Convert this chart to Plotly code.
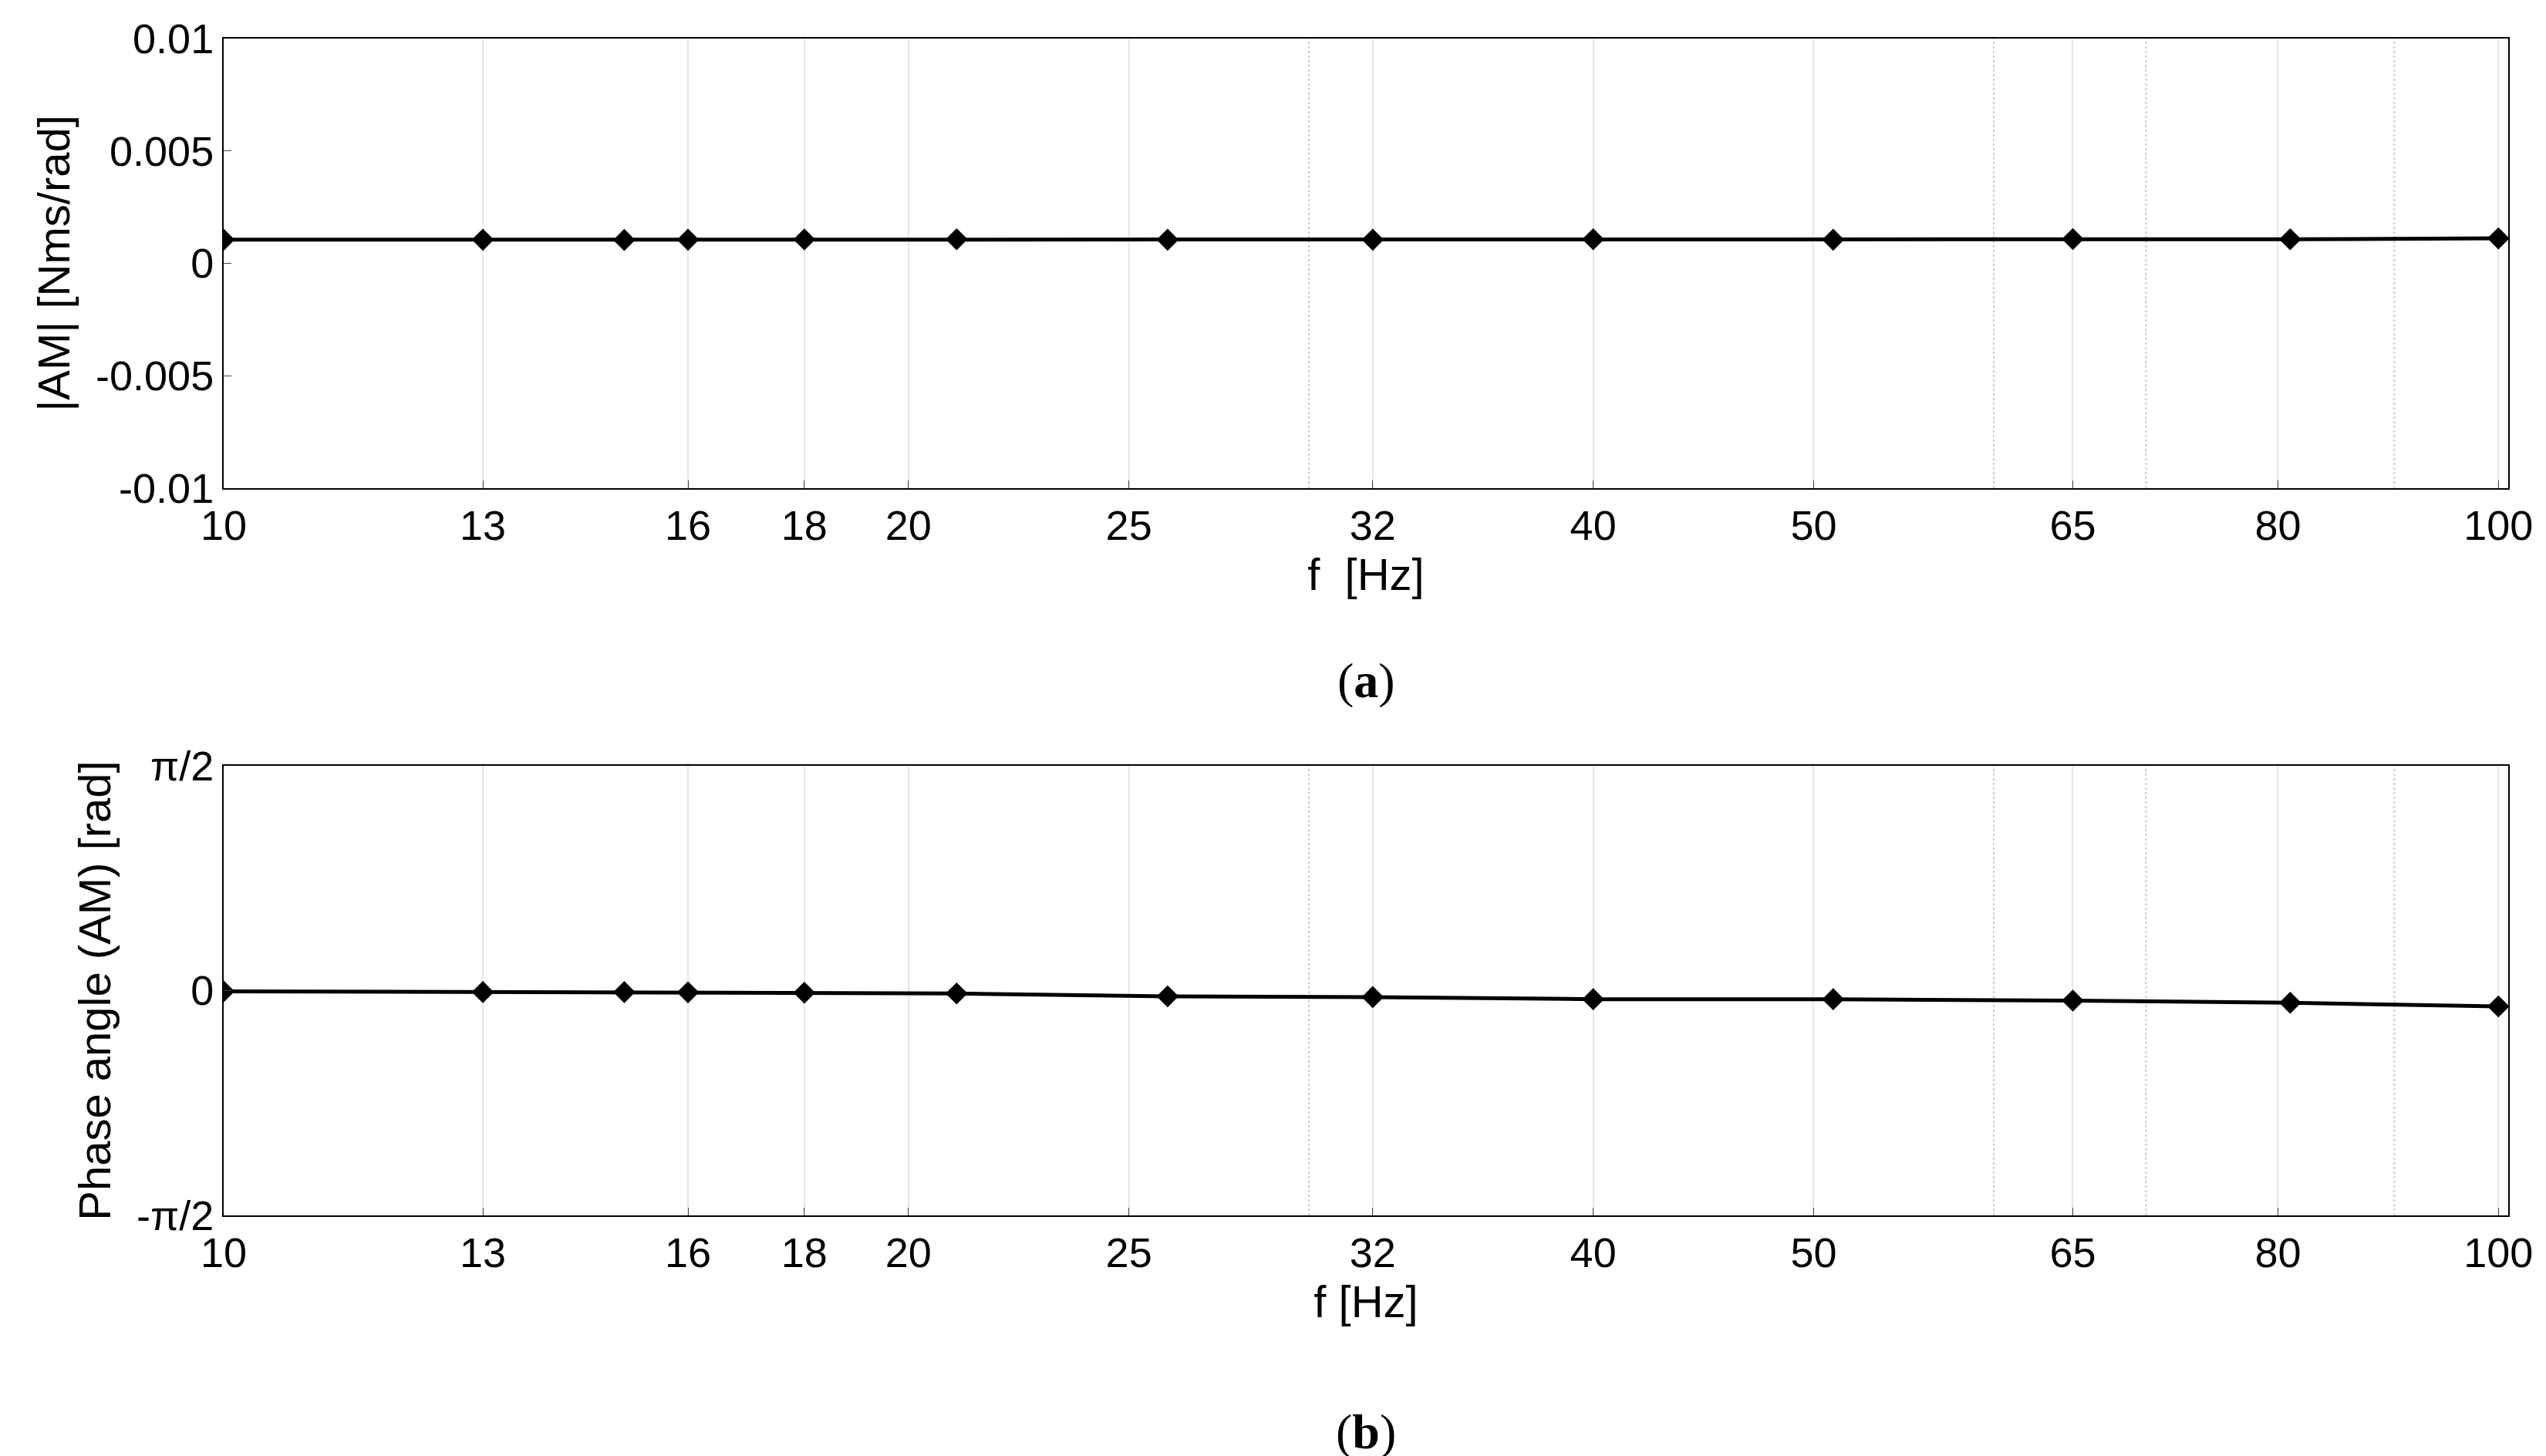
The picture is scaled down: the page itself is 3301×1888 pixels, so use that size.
import plotly.graph_objects as go
import math

freq = [10, 13, 15, 16, 18, 21, 26, 32, 40, 51, 65, 81, 100]
am_mag = [0.00105, 0.00105, 0.00104, 0.00105, 0.00106, 0.00107, 0.00105, 0.00105, 0.00107, 0.00105, 0.00108, 0.00107, 0.00111]
am_phase = [-0.005, -0.01, -0.01, -0.012, -0.015, -0.02, -0.04, -0.045, -0.06, -0.06, -0.07, -0.085, -0.11]
xticks = [10, 13, 16, 18, 20, 25, 32, 40, 50, 65, 80, 100]
minor = [30, 60, 70, 90]

fig = go.Figure()
mk = dict(symbol="diamond", size=22, color="black")
fig.add_trace(go.Scatter(x=freq, y=am_mag, mode="lines+markers", line=dict(color="black", width=5), marker=mk, xaxis="x", yaxis="y", showlegend=False))
fig.add_trace(go.Scatter(x=freq, y=am_phase, mode="lines+markers", line=dict(color="black", width=5), marker=mk, xaxis="x2", yaxis="y2", showlegend=False))

tf = dict(family="Liberation Sans, Arial", size=54, color="black")
ttf = dict(family="Liberation Sans, Arial", size=58, color="black")
xa = dict(type="log", range=[1, math.log10(101)], tickvals=xticks, ticktext=[str(v) for v in xticks],
          showgrid=True, gridcolor="#e6e6e6", gridwidth=2, showline=True, linecolor="black", linewidth=2, mirror=True,
          ticks="inside", ticklen=10, tickfont=tf, zeroline=False)
fig.update_layout(
    width=3301, height=1888, plot_bgcolor="white", paper_bgcolor="white",
    margin=dict(l=282, r=57, t=42, b=320),
    xaxis=dict(xa, domain=[0, 1], anchor="y", title=dict(text="f  [Hz]", font=ttf, standoff=15)),
    yaxis=dict(domain=[0.618, 1], range=[-0.01, 0.01], tickvals=[-0.01, -0.005, 0, 0.005, 0.01],
               ticktext=["-0.01", "-0.005", "0", "0.005", "0.01"], tickfont=tf,
               showgrid=False, zeroline=False, showline=True, linecolor="black", linewidth=2, mirror=True,
               ticks="inside", ticklen=10, title=dict(text="|AM| [Nms/rad]", font=ttf, standoff=15)),
    xaxis2=dict(xa, domain=[0, 1], anchor="y2", title=dict(text="f [Hz]", font=ttf, standoff=15)),
    yaxis2=dict(domain=[0, 0.382], range=[-math.pi/2, math.pi/2], tickvals=[-math.pi/2, 0, math.pi/2],
                ticktext=["-π/2", "0", "π/2"], tickfont=tf,
                showgrid=False, zeroline=False, showline=True, linecolor="black", linewidth=2, mirror=True,
                ticks="inside", ticklen=10, title=dict(text="Phase angle (AM) [rad]", font=ttf, standoff=15)),
)
for xr, yr in [("x", "y"), ("x2", "y2")]:
    for m in minor:
        fig.add_shape(type="line", xref=xr, yref=yr + " domain", x0=m, x1=m, y0=0, y1=1,
                      line=dict(color="#cccccc", width=2, dash="dot"), layer="below")
cf = dict(family="Liberation Serif, Times New Roman", size=64, color="black")
fig.add_annotation(text="(<b>a</b>)", xref="paper", yref="paper", x=0.5, y=(1888 - 320 - 875) / 1526,
                   yanchor="middle", showarrow=False, font=cf)
fig.add_annotation(text="(<b>b</b>)", xref="paper", yref="paper", x=0.5, y=(1888 - 320 - 1848) / 1526,
                   yanchor="middle", showarrow=False, font=cf)
fig.write_html("out.html")
